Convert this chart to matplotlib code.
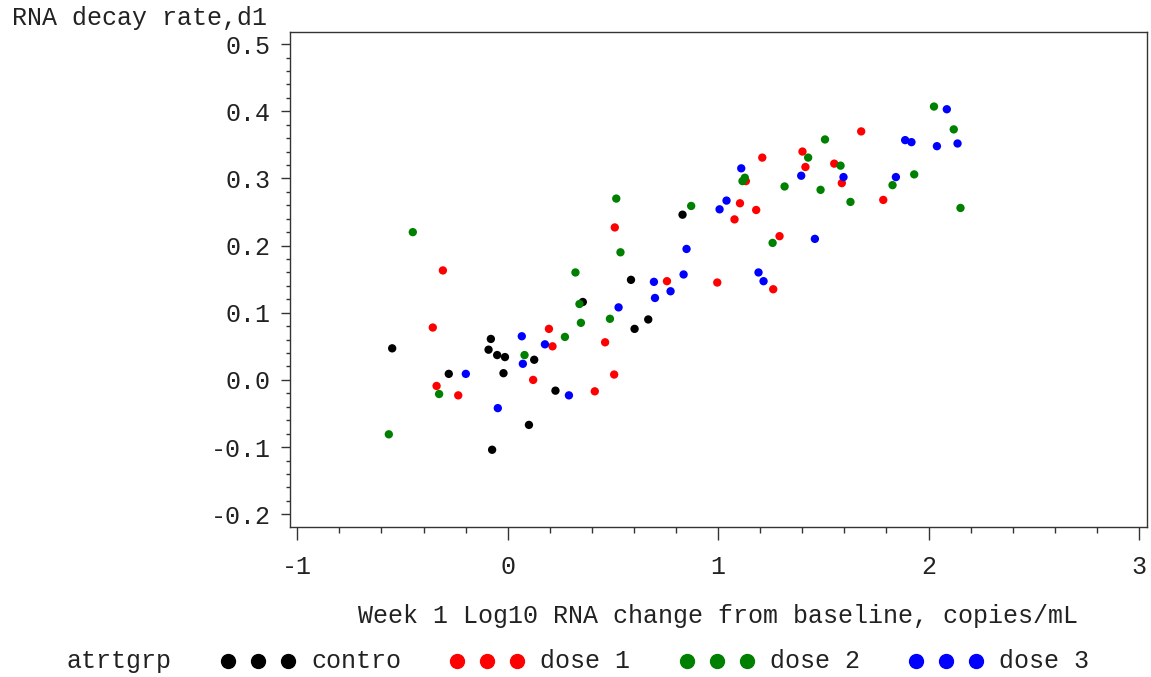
import matplotlib
matplotlib.use("Agg")
import matplotlib.pyplot as plt
from matplotlib.ticker import MultipleLocator
from matplotlib.lines import Line2D

plt.rcParams['font.family'] = ['Liberation Mono', 'DejaVu Sans Mono']
plt.rcParams['axes.unicode_minus'] = False

# groupe : contro
x_contro = [-0.549, -0.080, -0.091, -0.050, -0.013, -0.020, -0.280, 0.101, -0.074,
            0.126, 0.227, 0.357, 0.586, 0.668, 0.603, 0.831]
y_contro = [0.047, 0.061, 0.045, 0.037, 0.034, 0.010, 0.009, -0.067, -0.104,
            0.030, -0.016, 0.116, 0.149, 0.090, 0.076, 0.246]

# groupe : dose 1
x_dose1 = [-0.308, -0.356, -0.338, -0.235, 0.196, 0.213, 0.121, 0.414, 0.506, 0.463,
           0.509, 0.757, 0.996, 1.262, 1.292, 1.078, 1.104, 1.181, 1.132, 1.210,
           1.401, 1.415, 1.552, 1.588, 1.680, 1.785]
y_dose1 = [0.163, 0.078, -0.009, -0.023, 0.076, 0.050, 0.000, -0.017, 0.008, 0.056,
           0.227, 0.147, 0.145, 0.135, 0.214, 0.239, 0.263, 0.253, 0.296, 0.331,
           0.340, 0.317, 0.322, 0.293, 0.370, 0.268]

# groupe : dose 2
x_dose2 = [-0.451, -0.565, -0.326, 0.080, 0.272, 0.348, 0.341, 0.322, 0.486, 0.536,
           0.516, 0.872, 1.259, 1.127, 1.116, 1.316, 1.428, 1.508, 1.487, 1.582,
           1.629, 1.829, 1.932, 2.026, 2.120, 2.152]
y_dose2 = [0.220, -0.081, -0.021, 0.037, 0.064, 0.085, 0.113, 0.160, 0.091, 0.190,
           0.270, 0.259, 0.204, 0.301, 0.296, 0.288, 0.331, 0.358, 0.283, 0.319,
           0.265, 0.290, 0.306, 0.407, 0.373, 0.256]

# groupe : dose 3
x_dose3 = [-0.199, -0.047, 0.067, 0.072, 0.177, 0.291, 0.527, 0.695, 0.700, 0.774,
           0.836, 0.850, 1.007, 1.040, 1.110, 1.192, 1.216, 1.460, 1.395, 1.596,
           1.845, 1.889, 1.919, 2.040, 2.087, 2.138]
y_dose3 = [0.009, -0.042, 0.065, 0.024, 0.053, -0.023, 0.108, 0.146, 0.122, 0.132,
           0.157, 0.195, 0.254, 0.267, 0.315, 0.160, 0.147, 0.210, 0.304, 0.302,
           0.302, 0.357, 0.354, 0.348, 0.403, 0.352]

grupos = ['contro', 'dose 1', 'dose 2', 'dose 3']
colores = ['black', '#ff0000', '#008000', '#0000ff']
xs = [x_contro, x_dose1, x_dose2, x_dose3]
ys = [y_contro, y_dose1, y_dose2, y_dose3]

W, H = 1151, 677
FS = 18
fig = plt.figure(figsize=(W / 100, H / 100), dpi=100)
ax = fig.add_axes([289.5 / W, 1 - 527 / H, (1146.7 - 289.5) / W, (527 - 32) / H])

for xv, yv, c in zip(xs, ys, colores):
    ax.scatter(xv, yv, s=36, color=c, edgecolors='none', zorder=3)

ax.set_xlim(-1.037, 3.037)
ax.set_ylim(-0.219, 0.518)
ax.xaxis.set_major_locator(MultipleLocator(1))
ax.xaxis.set_minor_locator(MultipleLocator(0.2))
ax.yaxis.set_major_locator(MultipleLocator(0.1))
ax.yaxis.set_minor_locator(MultipleLocator(0.02))
ax.xaxis.set_major_formatter(matplotlib.ticker.FuncFormatter(lambda v, p: '%d' % round(v)))
ax.yaxis.set_major_formatter(matplotlib.ticker.FuncFormatter(lambda v, p: '%.1f' % v))

ax.tick_params(axis='x', which='major', length=9.5, width=1, pad=11, labelsize=FS, colors='#333333')
ax.tick_params(axis='x', which='minor', length=4.5, width=1, colors='#333333')
ax.tick_params(axis='y', which='major', length=6.5, width=1, pad=7, labelsize=FS, colors='#333333')
ax.tick_params(axis='y', which='minor', length=3, width=1, colors='#333333')
for lbl in ax.get_xticklabels() + ax.get_yticklabels():
    lbl.set_color('#222222')
for s in ax.spines.values():
    s.set_linewidth(1)
    s.set_color('#333333')

fig.text(12 / W, 1 - 18 / H, 'RNA decay rate,d1', fontsize=FS, ha='left', va='center', color='#222222')
fig.text(717.5 / W, 1 - 616 / H, 'Week 1 Log10 RNA change from baseline, copies/mL',
         fontsize=FS, ha='center', va='center', color='#222222')

# leyenda manual
ly = 1 - 661 / H
fig.text(66 / W, ly, 'atrtgrp', fontsize=FS, ha='left', va='center', color='#222222')
inicio = [228, 457, 687, 916]
for x0, c, g in zip(inicio, colores, grupos):
    for k in range(3):
        fig.add_artist(Line2D([(x0 + 30 * k) / W], [ly], marker='o', markersize=10,
                              color=c, linestyle='none', transform=fig.transFigure))
    fig.text((x0 + 83) / W, ly, g, fontsize=FS, ha='left', va='center', color='#222222')

fig.savefig('out.png', dpi=100)
